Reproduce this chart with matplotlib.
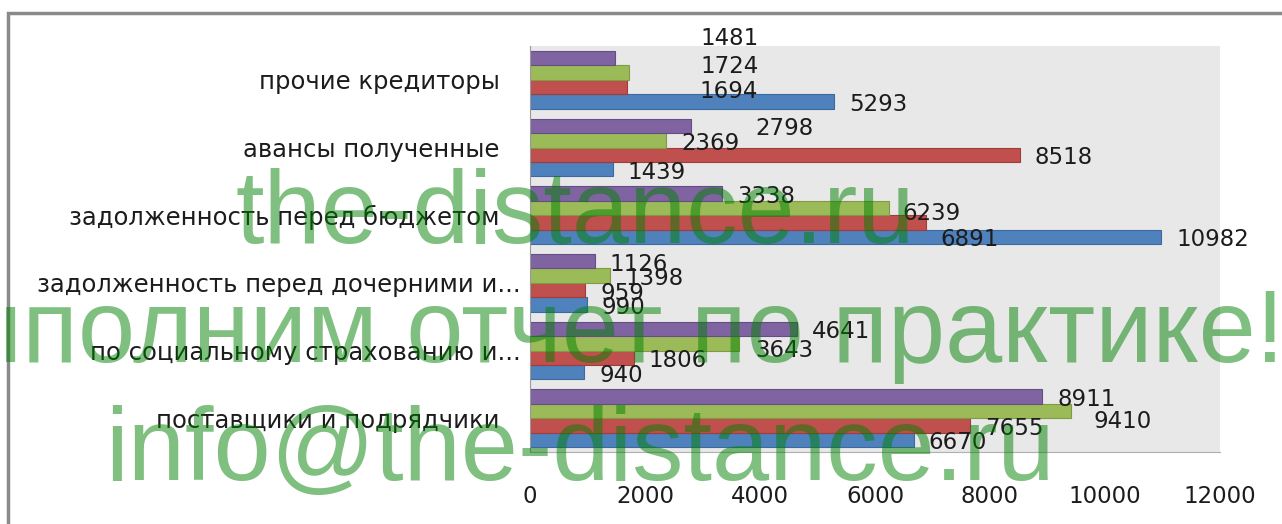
import numpy as np
import matplotlib
matplotlib.use('Agg')
import matplotlib.pyplot as plt
from matplotlib.patches import Rectangle
from matplotlib.transforms import ScaledTranslation

# categories listed bottom -> top (matplotlib barh order)
categories = ['поставщики и подрядчики',
              'по социальному страхованию и...',
              'задолженность перед дочерними и...',
              'задолженность перед бюджетом',
              'авансы полученные',
              'прочие кредиторы']

# four series, drawn bottom -> top inside each group
blue = [6670, 940, 990, 10982, 1439, 5293]
red = [7655, 1806, 959, 6891, 8518, 1694]
green = [9410, 3643, 1398, 6239, 2369, 1724]
purple = [8911, 4641, 1126, 3338, 2798, 1481]

xticks = [0, 2000, 4000, 6000, 8000, 10000, 12000]

series = [blue, red, green, purple]
colors = ['#4F81BD', '#C0504D', '#9BBB59', '#8064A2']
edges = ['#3b6a9f', '#a03c3a', '#7f9c45', '#654e85']

# label nudges in pixels (dx, dy down), default is (15, 3)
nudge = {(3, 5): (85, -20), (2, 5): (71, -6), (1, 5): (72, 4),
         (3, 4): (64, 3), (1, 3): (14, 17), (2, 3): (14, 6),
         (2, 1): (16, 7), (2, 0): (22, 11)}

fig = plt.figure(figsize=(12.82, 5.24), dpi=100)
ax = fig.add_axes([530/1282, 1-452/524, 690/1282, 406/524])
ax.set_facecolor('#e8e8e8')

h = 0.214
y = np.arange(len(categories))
for j, vals in enumerate(series):
    pos = y + (j - 1.5) * h
    ax.barh(pos, vals, height=h, color=colors[j], edgecolor=edges[j], linewidth=0.8, zorder=2)
    for i, v in enumerate(vals):
        dx, dy = nudge.get((j, i), (15, 3))
        ax.annotate(str(v), (v, pos[i]), xytext=(dx, -dy), textcoords='offset pixels',
                    ha='left', va='center', fontsize=16.5, color='#1c1c1c', zorder=3)

ax.set_xlim(0, 12000)
ax.set_ylim(-0.5, len(categories) - 0.5)
ax.set_xticks(xticks)
ax.set_xticklabels([str(t) for t in xticks], fontsize=16.5, color='#1c1c1c')
ax.set_yticks(y)
ax.set_yticklabels(categories, fontsize=17.5, color='#1c1c1c')
ax.tick_params(axis='x', length=0, pad=24)
ax.tick_params(axis='y', length=0, pad=22)
# truncated labels sit a bit further right in the original
for lab in ax.get_yticklabels():
    if lab.get_text().endswith('...'):
        lab.set_transform(lab.get_transform() + ScaledTranslation(0.21, 0, fig.dpi_scale_trans))
for s in ['top', 'right']:
    ax.spines[s].set_visible(False)
ax.spines['left'].set_color('#9a9a9a')
ax.spines['bottom'].set_color('#b0b0b0')

# outer chart frame
fig.patches.append(Rectangle((8/1282, -0.1), 1.2, 1-13/524+0.1, transform=fig.transFigure,
                             fill=False, edgecolor='#8a8a8a', linewidth=2.5))

# watermark
wm = dict(family='Liberation Sans', fontsize=74, color=(0, 0.5, 0, 0.5),
          ha='center', va='baseline', zorder=10)
fig.text(575/1282, 1-243/524, 'the-distance.ru', **wm)
fig.text(582/1282, 1-362/524, 'Выполним отчет по практике!', **wm)
fig.text(580/1282, 1-480/524, 'info@the-distance.ru', **wm)

plt.savefig('out.png', dpi=100)
